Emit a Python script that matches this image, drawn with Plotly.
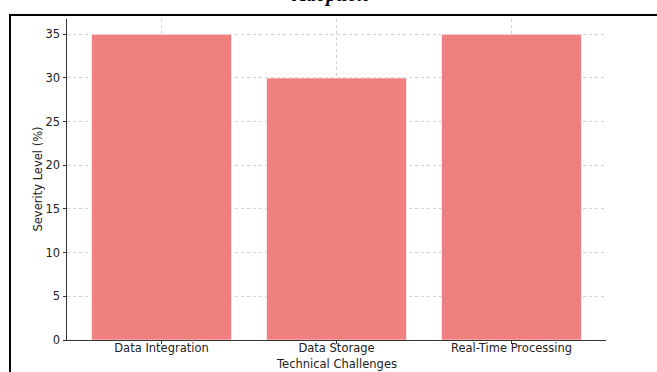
import plotly.graph_objects as go

categories = ["Data Integration", "Data Storage", "Real-Time Processing"]
severity = [35, 30, 35]
y_ticks = [0, 5, 10, 15, 20, 25, 30, 35]

W, H = 657, 372
L, R, T, B = 67, 51, 19, 32
pw, ph = W - L - R, H - T - B

fig = go.Figure(go.Bar(
    x=list(range(len(categories))), y=severity, width=0.8,
    marker=dict(color="#F08080", line=dict(color="rgba(255,255,255,0.6)", width=1)),
))

font = dict(family="DejaVu Sans", size=11.5, color="#222")
grid = dict(showgrid=True, gridcolor="rgba(170,170,170,0.55)", griddash="dot", gridwidth=1)
fig.update_layout(
    width=W, height=H, margin=dict(l=L, r=R, t=T, b=B, autoexpand=False),
    paper_bgcolor="white", plot_bgcolor="white",
    showlegend=False, font=font, bargap=0.2,
    xaxis=dict(
        range=[-0.54, 2.54], tickmode="array", tickvals=list(range(len(categories))),
        ticktext=categories, showline=True, linecolor="#333", linewidth=1,
        ticks="outside", ticklen=3, tickcolor="#333", zeroline=False,
        layer="above traces", automargin=False, ticklabelstandoff=-6, **grid,
    ),
    yaxis=dict(
        range=[0, 36.75], tickvals=y_ticks, showline=True, linecolor="#333", linewidth=1,
        ticks="outside", ticklen=3.5, tickcolor="#333", zeroline=False,
        layer="above traces", automargin=False, **grid,
    ),
)

# axis titles
fig.add_annotation(text="Technical Challenges", xref="paper", yref="paper",
                   x=0.5, y=(H - B - 364) / ph, xanchor="center", yanchor="middle",
                   showarrow=False, font=font)
fig.add_annotation(text="Severity Level (%)", xref="paper", yref="paper",
                   x=(37 - L) / pw, y=0.5, xanchor="center", yanchor="middle",
                   textangle=-90, showarrow=False, font=font)

# figure border (extends beyond the visible page)
fig.add_shape(type="rect", xref="paper", yref="paper",
              x0=(10 - L) / pw, x1=(670 - L) / pw,
              y0=(H - B - 390) / ph, y1=(H - B - 15) / ph,
              line=dict(color="black", width=2), fillcolor="rgba(0,0,0,0)", layer="above")

# title, mostly cut off at the top of the page
fig.add_annotation(text="<b><i>Adoption</i></b>", xref="paper", yref="paper",
                   x=(330 - L) / pw, y=(H - B + 5) / ph, xanchor="center", yanchor="middle",
                   showarrow=False, font=dict(family="Liberation Serif", size=20, color="black"))

fig.write_html("out.html")
